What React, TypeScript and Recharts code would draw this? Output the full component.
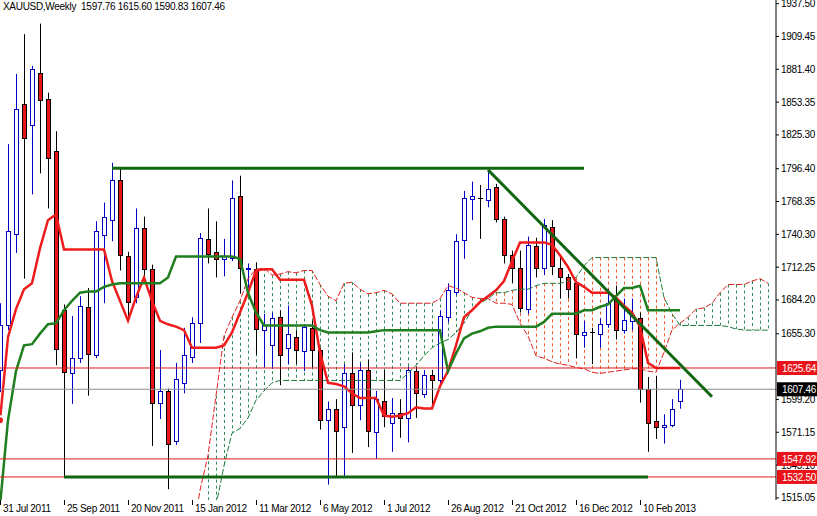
import React from "react";
import { ComposedChart, Bar, Line, XAxis, YAxis, ReferenceLine } from "recharts";

// XAUUSD weekly, 31 Jul 2011 .. 17 Mar 2013 (bar index 0..85), cloud runs on to 96
const opens = [
  1624, 1662, 1740, 1851, 1833, 1878, 1856, 1811, 1675, 1621,
  1634, 1678, 1637, 1739, 1752, 1786, 1721, 1686, 1745, 1710,
  1596, 1606, 1563, 1613, 1635, 1664, 1736, 1725, 1719, 1720,
  1773, 1710, 1710, 1658, 1645, 1669, 1643, 1652, 1640, 1660,
  1641, 1581, 1591, 1575, 1621, 1594, 1624, 1571, 1597, 1579,
  1587, 1583, 1623, 1603, 1620, 1615, 1669, 1691, 1735, 1770,
  1771, 1769, 1780, 1753, 1722, 1711, 1676, 1730, 1711, 1746,
  1711, 1703, 1698, 1654, 1656, 1655, 1663, 1685, 1658, 1666,
  1668, 1608, 1580, 1575, 1577, 1597.76,
];
const highs = [
  1681, 1817, 1877, 1911, 1884, 1920, 1861, 1828, 1680, 1670,
  1687, 1694, 1751, 1767, 1801, 1796, 1725, 1762, 1755, 1714,
  1641, 1608, 1630, 1660, 1669, 1741, 1762, 1751, 1736, 1786,
  1790, 1715, 1716, 1672, 1673, 1675, 1679, 1658, 1663, 1666,
  1643, 1597, 1599, 1629, 1639, 1630, 1633, 1606, 1624, 1600,
  1599, 1627, 1627, 1624, 1624, 1675, 1698, 1740, 1777, 1785,
  1782, 1795, 1783, 1755, 1726, 1726, 1738, 1737, 1753, 1752,
  1722, 1706, 1700, 1666, 1660, 1668, 1693, 1696, 1685, 1685,
  1673, 1618, 1619, 1586, 1599, 1615.6,
];
const lows = [
  1605, 1658, 1724, 1702, 1774, 1792, 1762, 1628, 1532, 1595,
  1630, 1602, 1634, 1681, 1734, 1709, 1665, 1681, 1702, 1559,
  1582, 1522, 1560, 1604, 1630, 1647, 1715, 1703, 1704, 1717,
  1689, 1693, 1637, 1626, 1625, 1611, 1629, 1629, 1623, 1626,
  1573, 1526, 1532, 1532, 1553, 1581, 1558, 1548, 1575, 1554,
  1566, 1562, 1583, 1600, 1594, 1612, 1665, 1688, 1719, 1752,
  1736, 1763, 1750, 1715, 1698, 1673, 1672, 1703, 1705, 1705,
  1685, 1685, 1634, 1643, 1629, 1643, 1660, 1650, 1655, 1658,
  1596, 1554, 1565, 1561, 1575, 1590.83,
];
const closes = [
  1662, 1743, 1847, 1822, 1881, 1855, 1805, 1642, 1622, 1634,
  1679, 1638, 1743, 1755, 1786, 1722, 1682, 1745, 1710, 1596,
  1606, 1561, 1616, 1637, 1664, 1737, 1723, 1719, 1721, 1771,
  1711, 1711, 1659, 1662, 1668, 1637, 1655, 1641, 1661, 1641,
  1581, 1591, 1572, 1621, 1594, 1624, 1572, 1599, 1585, 1587,
  1583, 1624, 1604, 1620, 1615, 1670, 1692, 1734, 1771, 1773,
  1771, 1779, 1753, 1722, 1711, 1677, 1731, 1711, 1748, 1713,
  1703, 1693, 1655, 1656, 1656, 1663, 1681, 1658, 1667, 1670,
  1608, 1579, 1575, 1577, 1591, 1607.46,
];

const tenkanSen = [
  1581, 1652, 1676, 1693, 1698, 1728, 1752, 1757, 1727, 1727,
  1727, 1727, 1727, 1727, 1700, 1683, 1666, 1686, 1703, 1683,
  1666, 1663, 1661, 1658, 1643, 1643, 1643, 1643, 1645, 1656,
  1673, 1690, 1709, 1710, 1710, 1701, 1701, 1701, 1701, 1679,
  1639, 1613, 1612, 1610, 1604, 1600, 1600, 1600, 1585, 1584,
  1585, 1587, 1592, 1591, 1591, 1610, 1623, 1645, 1669, 1675,
  1682, 1687, 1692, 1700, 1717, 1733, 1733, 1733, 1733, 1731,
  1722, 1712, 1699, 1695, 1690, 1690, 1690, 1686, 1679, 1673,
  1661, 1630, 1625.6, 1625.6, 1625.6, 1625.6,
];
const kijunSen = [
  1508, 1581, 1623, 1645, 1646, 1655, 1663, 1664, 1675, 1683,
  1690, 1691, 1691, 1695, 1697, 1698, 1698, 1698, 1698, 1698,
  1698, 1703, 1721, 1721, 1721, 1721, 1721, 1721, 1721, 1721,
  1719, 1690, 1673, 1662, 1662, 1662, 1662, 1662, 1662, 1662,
  1658, 1656, 1656, 1656, 1656, 1656, 1656, 1657, 1658, 1658,
  1658, 1658, 1658, 1658, 1658, 1658, 1623, 1638, 1651, 1655,
  1657, 1660, 1661, 1661, 1661, 1661, 1661, 1661, 1665, 1672,
  1672, 1672, 1672, 1675, 1675, 1678, 1680, 1687, 1694, 1694,
  1696, 1675, 1675, 1675, 1675, 1675,
];
const spanA = [
  ...Array(24).fill(null),
  1480, 1521, 1551, 1602, 1653, 1669,
  1683, 1702, 1710, 1711, 1705, 1706, 1708, 1707, 1709, 1709,
  1697, 1687, 1683, 1698, 1699, 1693, 1689, 1690, 1692, 1689,
  1681, 1681, 1681, 1681, 1681, 1685, 1696, 1694, 1690, 1686,
  1685, 1685, 1681, 1681, 1680, 1664, 1653, 1636, 1634, 1631,
  1629, 1628, 1626, 1625, 1622, 1621, 1622, 1623, 1624, 1625,
  1625, 1623, 1622, 1639, 1658, 1664, 1669, 1676, 1677, 1681,
  1690, 1697, 1697, 1697, 1700, 1702, 1698,
];
const spanB = [
  ...Array(26).fill(null),
  1460, 1508, 1542, 1570,
  1574, 1583, 1598, 1606, 1613, 1615, 1615, 1615, 1615, 1615,
  1615, 1615, 1615, 1615, 1615, 1615, 1615, 1615, 1615, 1615,
  1615, 1621, 1628, 1636, 1643, 1647, 1650, 1656, 1664, 1675,
  1681, 1685, 1690, 1690, 1692, 1693, 1693, 1696, 1698, 1698,
  1698, 1700, 1703, 1713, 1720, 1720, 1720, 1720, 1720, 1720,
  1720, 1720, 1720, 1686, 1672, 1662, 1662, 1662, 1662, 1662,
  1662, 1661, 1659, 1658, 1658, 1658, 1658,
];

const dateTicks = [0, 8, 16, 24, 32, 40, 48, 56, 64, 72, 80];
const dateLabels = [
  "31 Jul 2011", "25 Sep 2011", "20 Nov 2011", "15 Jan 2012", "11 Mar 2012", "6 May 2012",
  "1 Jul 2012", "26 Aug 2012", "21 Oct 2012", "16 Dec 2012", "10 Feb 2013",
];
// 1627.25 sits fully under the 1625.64 tag, so it is left out
const priceTicks = [
  1515.05, 1543.1, 1571.15, 1599.2, 1655.3, 1684.2, 1712.25,
  1740.3, 1768.35, 1796.4, 1825.3, 1853.35, 1881.4, 1909.45, 1937.5,
];
const redLevels = [1625.64, 1547.92, 1532.5];
const lastPrice = 1607.46;
const rangeTop = { from: 14, to: 73, price: 1796.4 };
const rangeBottom = { from: 8, to: 81, price: 1532.5 };
const trend = { x1: 61, y1: 1795, x2: 89, y2: 1601 };

const rows = Array.from({ length: 97 }, (_, i) => ({
  i,
  o: opens[i] ?? null,
  h: highs[i] ?? null,
  l: lows[i] ?? null,
  c: closes[i] ?? null,
  tenkan: tenkanSen[i] ?? null,
  kijun: kijunSen[i] ?? null,
  a: spanA[i] ?? null,
  b: spanB[i] ?? null,
}));

// tags drawn last so they cover the plain tick labels under them
const axisTicks = [...priceTicks, ...redLevels, lastPrice];

const FONT = "'Liberation Sans', Arial, sans-serif";
const textStyle = { fontFamily: FONT, fontSize: 10, letterSpacing: "-0.3px" };

const Candle = (props: any) => {
  const { x, y, width, height, payload } = props;
  if (!payload || payload.h == null || !isFinite(y) || !isFinite(height)) return <g />;
  const cx = Math.round(x + width / 2);
  const k = height / (payload.h - payload.l || 1);
  const yo = y + (payload.h - payload.o) * k;
  const yc = y + (payload.h - payload.c) * k;
  const top = Math.round(Math.min(yo, yc));
  const bot = Math.round(Math.max(yo, yc));
  const up = payload.c > payload.o;
  const flat = payload.c === payload.o;
  const wick = up ? "#0000c8" : "#000000";
  return (
    <g>
      <line x1={cx + 0.5} x2={cx + 0.5} y1={y} y2={y + height} stroke={wick} strokeWidth={1} />
      {flat ? (
        <line x1={cx - 2} x2={cx + 3} y1={top + 0.5} y2={top + 0.5} stroke="#000" strokeWidth={1} />
      ) : (
        <rect
          x={cx - 1.5}
          y={top + 0.5}
          width={4}
          height={Math.max(bot - top, 1)}
          fill={up ? "#ffffff" : "#e8141a"}
          stroke={up ? "#0000c8" : "#000000"}
          strokeWidth={1}
        />
      )}
    </g>
  );
};

const Hatch = (props: any) => {
  const { x, y, width, height, payload } = props;
  if (!payload || payload.a == null || payload.b == null || !isFinite(height)) return <g />;
  const cx = Math.round(x + width / 2) + 0.5;
  const col = payload.a >= payload.b ? "#2e8b57" : "#f05a28";
  return <line x1={cx} x2={cx} y1={y} y2={y + height} stroke={col} strokeWidth={1} strokeDasharray="3 3" />;
};

const DateTick = (props: any) => {
  const { x, y, payload } = props;
  const idx = dateTicks.indexOf(payload.value);
  return (
    <g>
      <line x1={x + 0.5} x2={x + 0.5} y1={y} y2={y + 5} stroke="#000" />
      <text x={x + 3} y={y + 12} fill="#000" style={textStyle}>
        {dateLabels[idx]}
      </text>
    </g>
  );
};

const PriceTick = (props: any) => {
  const { x, y, payload } = props;
  const v = payload.value;
  if (redLevels.includes(v) || v === lastPrice) {
    const bg = v === lastPrice ? "#000000" : "#e8141a";
    return (
      <g>
        <rect x={x + 1} y={y - 7} width={41} height={14} fill={bg} />
        <text x={x + 6} y={y + 4} fill="#fff" style={textStyle}>
          {v.toFixed(2)}
        </text>
      </g>
    );
  }
  return (
    <g>
      <line x1={x} x2={x + 3} y1={y + 0.5} y2={y + 0.5} stroke="#000" />
      <text x={x + 5} y={y + 4} fill="#000" style={textStyle}>
        {v.toFixed(2)}
      </text>
    </g>
  );
};

export default function App() {
  return (
    <div style={{ position: "absolute", left: 0, top: 0, width: 817, height: 516, background: "#fff" }}>
      <ComposedChart width={817} height={516} data={rows} margin={{ top: 0, right: 0, bottom: 0, left: 0 }}>
        <XAxis
          xAxisId="c"
          dataKey="i"
          type="number"
          domain={[0, 97]}
          allowDataOverflow
          ticks={dateTicks}
          interval={0}
          tick={<DateTick />}
          tickLine={false}
          axisLine={false}
          tickSize={0}
          tickMargin={0}
          height={16}
        />
        <XAxis xAxisId="h" dataKey="i" type="number" domain={[0, 97]} allowDataOverflow hide />
        <YAxis
          yAxisId="p"
          orientation="right"
          type="number"
          domain={[1512.8, 1940.2]}
          allowDataOverflow
          ticks={axisTicks}
          interval={0}
          tick={<PriceTick />}
          tickLine={false}
          tickSize={0}
          tickMargin={0}
          axisLine={{ stroke: "#000" }}
          width={41}
        />

        <Bar
          xAxisId="h"
          yAxisId="p"
          dataKey={(d: any) => (d.a != null && d.b != null ? [Math.min(d.a, d.b), Math.max(d.a, d.b)] : null)}
          barSize={5}
          shape={<Hatch />}
          isAnimationActive={false}
        />
        <Line xAxisId="c" yAxisId="p" dataKey="a" stroke="#e02020" strokeWidth={1} strokeDasharray="6 2" dot={false} isAnimationActive={false} />
        <Line xAxisId="c" yAxisId="p" dataKey="b" stroke="#1f7a3a" strokeWidth={1} strokeDasharray="6 2" dot={false} isAnimationActive={false} />

        <Bar
          xAxisId="c"
          yAxisId="p"
          dataKey={(d: any) => (d.h != null ? [d.l, d.h] : null)}
          barSize={5}
          shape={<Candle />}
          isAnimationActive={false}
        />

        <Line xAxisId="c" yAxisId="p" dataKey="tenkan" stroke="#ee1c1c" strokeWidth={2.5} dot={false} isAnimationActive={false} />
        <Line xAxisId="c" yAxisId="p" dataKey="kijun" stroke="#1f7f1f" strokeWidth={2.5} dot={false} isAnimationActive={false} />

        {redLevels.map((v) => (
          <ReferenceLine key={v} xAxisId="c" yAxisId="p" y={v} stroke="#e01b1b" strokeWidth={1} />
        ))}
        <ReferenceLine xAxisId="c" yAxisId="p" y={lastPrice} stroke="#8c8c8c" strokeWidth={1} />

        <ReferenceLine
          xAxisId="c"
          yAxisId="p"
          segment={[{ x: rangeTop.from, y: rangeTop.price }, { x: rangeTop.to, y: rangeTop.price }]}
          stroke="#116611"
          strokeWidth={3}
        />
        <ReferenceLine
          xAxisId="c"
          yAxisId="p"
          segment={[{ x: rangeBottom.from, y: rangeBottom.price }, { x: rangeBottom.to, y: rangeBottom.price }]}
          stroke="#116611"
          strokeWidth={3}
        />
        <ReferenceLine
          xAxisId="c"
          yAxisId="p"
          segment={[{ x: trend.x1, y: trend.y1 }, { x: trend.x2, y: trend.y2 }]}
          stroke="#116611"
          strokeWidth={3}
        />
      </ComposedChart>
      <div
        style={{
          position: "absolute",
          left: 3,
          top: 1.5,
          fontFamily: FONT,
          fontSize: 10,
          lineHeight: "10px",
          letterSpacing: "-0.3px",
          whiteSpace: "pre",
          color: "#000",
        }}
      >
        {"XAUUSD,Weekly  1597.76 1615.60 1590.83 1607.46"}
      </div>
    </div>
  );
}
